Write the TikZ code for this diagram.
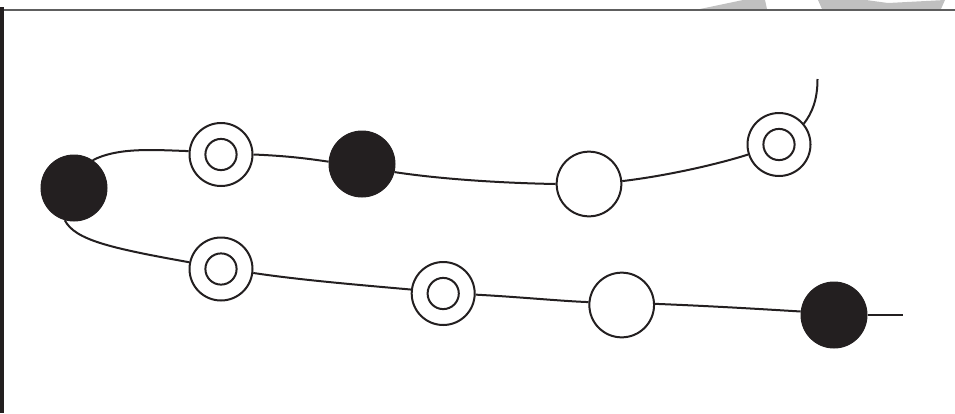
\documentclass[tikz,border=0pt]{standalone}
\definecolor{ink}{HTML}{231F20}
\definecolor{rulegray}{HTML}{5E5E5E}
\definecolor{wmgray}{HTML}{C0C0C0}
\begin{document}
\begin{tikzpicture}[x=1pt,y=-1pt,
  conn/.style={draw=ink,line width=2pt},
  blackdot/.style={circle,draw=ink,fill=ink,line width=1pt,minimum size=66pt,inner sep=0pt},
  whitedot/.style={circle,draw=ink,fill=white,line width=2pt,minimum size=64.7pt,inner sep=0pt},
  ringdot/.style={whitedot,minimum size=63pt,
    path picture={\draw[ink,line width=2pt] (path picture bounding box.center) circle[radius=15.6pt];}}]
\useasboundingbox (0,0) rectangle (955,413);
% frame pieces
\fill[wmgray] (700,9) -- (743,0) -- (765,0) -- (767,9) -- cycle;
\fill[wmgray] (818,0) -- (866,0) -- (888,3) -- (945,0) -- (941,9) -- (822,9) -- cycle;
\fill[rulegray] (3,9) rectangle (955,11);
\fill[ink] (0,7) rectangle (3.7,413);
% nodes
\node[blackdot] (A) at (74,188) {};
\node[ringdot] (B1) at (221,154.5) {};
\node[blackdot] (C) at (362,164) {};
\node[whitedot] (D) at (589,184) {};
\node[ringdot] (E) at (779,144.5) {};
\node[ringdot] (B2) at (221,269) {};
\node[ringdot] (F) at (443.2,293.5) {};
\node[whitedot] (G) at (621.7,305) {};
\node[blackdot] (H) at (834,315) {};
\coordinate (topend) at (817.5,79);
\coordinate (hend) at (903,315);
% connectors
\draw[conn] (A.56) .. controls (118,147) and (155,150) .. (B1.174);
\draw[conn] (B1.0) .. controls (290,156) and (310,159) .. (C.176);
\draw[conn] (C.-14) .. controls (440,179) and (500,183) .. (D.180);
\draw[conn] (D.5) .. controls (665,176) and (715,165) .. (E.198);
\draw[conn] (E.40) .. controls (812,113) and (817.5,100) .. (topend);
\draw[conn] (A.254) .. controls (75,240) and (110,248) .. (B2.168);
\draw[conn] (B2.-7) .. controls (300,280) and (360,285) .. (F.173);
\draw[conn] (F.-2) .. controls (520,297) and (560,301) .. (G.175);
\draw[conn] (G.2) .. controls (710,306) and (760,309) .. (H.174);
\draw[conn] (H.0) -- (hend);
\end{tikzpicture}
\end{document}
